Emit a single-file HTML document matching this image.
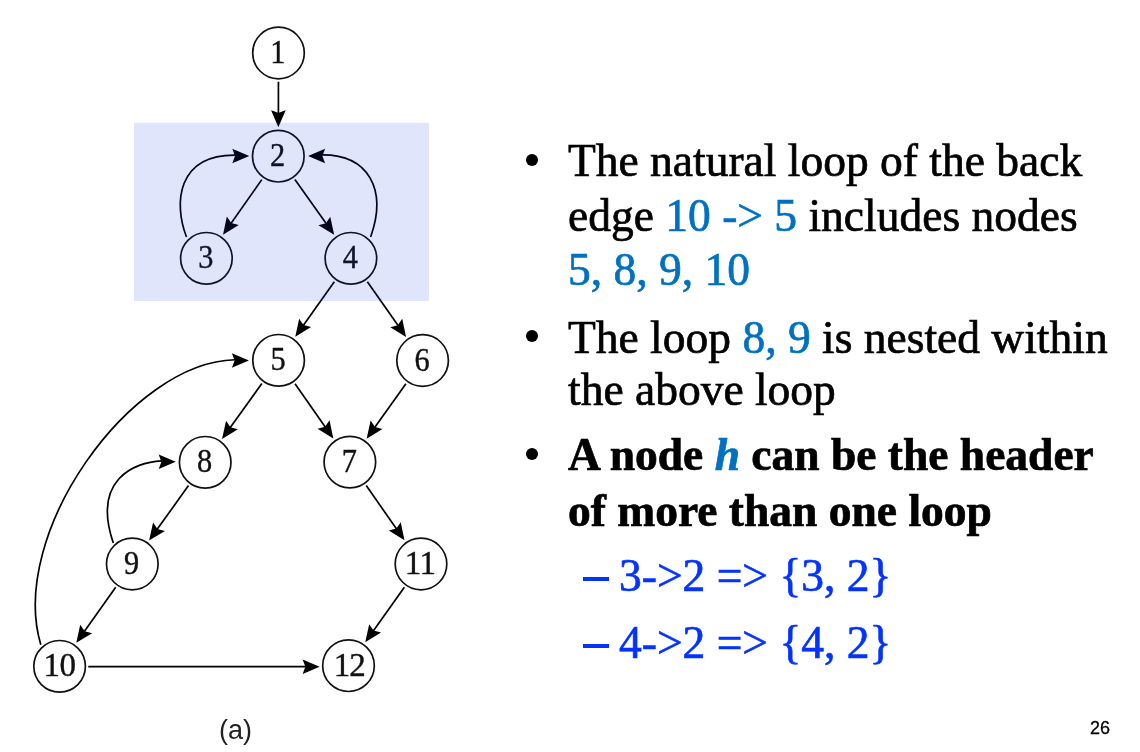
<!DOCTYPE html>
<html><head><meta charset="utf-8"><style>
html,body{margin:0;padding:0;background:#fff;width:1140px;height:752px;overflow:hidden;position:relative}
body{font-family:"Liberation Serif",serif;color:#000}
div,svg{will-change:transform}
</style></head><body>
<svg width="1140" height="752" style="position:absolute;left:0;top:0">
<line x1="278.44" y1="81.65" x2="278.38" y2="113.55" stroke="#000" stroke-width="1.7"/><path d="M278.36,127.35 L271.09,110.34 Q274.74,111.69 278.38,113.05 Q282.04,111.71 285.69,110.36 Z" fill="#000"/><line x1="261.80" y1="179.62" x2="230.96" y2="223.43" stroke="#000" stroke-width="1.7"/><path d="M223.01,234.71 L226.83,216.61 Q229.04,219.81 231.24,223.02 Q235.01,224.02 238.77,225.02 Z" fill="#000"/><line x1="294.90" y1="179.55" x2="326.18" y2="223.54" stroke="#000" stroke-width="1.7"/><path d="M334.18,234.79 L318.38,225.16 Q322.14,224.15 325.89,223.13 Q328.09,219.92 330.28,216.70 Z" fill="#000"/><line x1="334.33" y1="281.67" x2="303.26" y2="325.50" stroke="#000" stroke-width="1.7"/><path d="M295.28,336.76 L299.16,318.67 Q301.36,321.88 303.55,325.10 Q307.31,326.11 311.07,327.12 Z" fill="#000"/><line x1="367.35" y1="281.75" x2="398.11" y2="325.59" stroke="#000" stroke-width="1.7"/><path d="M406.03,336.88 L390.29,327.16 Q394.05,326.17 397.82,325.18 Q400.03,321.97 402.24,318.77 Z" fill="#000"/><line x1="261.87" y1="383.55" x2="230.11" y2="427.68" stroke="#000" stroke-width="1.7"/><path d="M222.05,438.88 L226.06,420.82 Q228.23,424.05 230.40,427.28 Q234.15,428.31 237.91,429.35 Z" fill="#000"/><line x1="295.03" y1="383.77" x2="325.39" y2="427.16" stroke="#000" stroke-width="1.7"/><path d="M333.31,438.46 L317.58,428.72 Q321.34,427.74 325.11,426.75 Q327.32,423.55 329.54,420.35 Z" fill="#000"/><line x1="405.92" y1="383.79" x2="374.68" y2="427.42" stroke="#000" stroke-width="1.7"/><path d="M366.65,438.64 L370.61,420.57 Q372.79,423.79 374.97,427.02 Q378.72,428.04 382.48,429.07 Z" fill="#000"/><line x1="188.51" y1="485.59" x2="157.15" y2="529.34" stroke="#000" stroke-width="1.7"/><path d="M149.11,540.55 L153.08,522.48 Q155.26,525.71 157.44,528.93 Q161.19,529.96 164.95,530.99 Z" fill="#000"/><line x1="115.70" y1="587.35" x2="84.31" y2="631.53" stroke="#000" stroke-width="1.7"/><path d="M76.31,642.78 L80.21,624.70 Q82.40,627.91 84.60,631.13 Q88.35,632.14 92.11,633.15 Z" fill="#000"/><line x1="366.25" y1="485.59" x2="396.58" y2="529.03" stroke="#000" stroke-width="1.7"/><path d="M404.48,540.35 L388.77,530.59 Q392.53,529.60 396.30,528.62 Q398.52,525.42 400.74,522.23 Z" fill="#000"/><line x1="404.37" y1="587.33" x2="373.26" y2="630.97" stroke="#000" stroke-width="1.7"/><path d="M365.25,642.21 L369.17,624.13 Q371.36,627.35 373.55,630.56 Q377.30,631.58 381.06,632.60 Z" fill="#000"/><line x1="88.25" y1="666.70" x2="305.85" y2="666.70" stroke="#000" stroke-width="1.7"/><path d="M319.65,666.70 L302.65,674.00 Q304.00,670.35 305.35,666.70 Q304.00,663.05 302.65,659.40 Z" fill="#000"/><path d="M186.50,237.00 C173.53,203.45 176.90,154.58 235.33,155.05" fill="none" stroke="#000" stroke-width="1.7"/><path d="M249.30,156.00 L232.30,163.30 Q233.65,159.65 235.00,156.00 Q233.65,152.35 232.30,148.70 Z" fill="#000"/><path d="M370.60,237.00 C387.65,189.23 368.18,154.59 322.06,154.92" fill="none" stroke="#000" stroke-width="1.7"/><path d="M308.10,156.00 L325.10,148.70 Q323.75,152.35 322.40,156.00 Q323.75,159.65 325.10,163.30 Z" fill="#000"/><path d="M113.30,543.00 C91.91,480.06 133.69,462.09 161.73,460.81" fill="none" stroke="#000" stroke-width="1.7"/><path d="M175.70,461.70 L158.70,469.00 Q160.05,465.35 161.40,461.70 Q160.05,458.05 158.70,454.40 Z" fill="#000"/><path d="M40.80,644.70 C7.74,534.20 130.32,362.00 234.92,359.75" fill="none" stroke="#000" stroke-width="1.7"/><path d="M248.90,360.50 L231.90,367.80 Q233.25,364.15 234.60,360.50 Q233.25,356.85 231.90,353.20 Z" fill="#000"/>
<circle cx="278.50" cy="53.00" r="25.8" fill="none" stroke="#111" stroke-width="1.7"/><text transform="translate(277.90,63.00) scale(0.92,1)" x="0.00" y="0" text-anchor="middle" font-family="Liberation Serif" font-size="33" letter-spacing="0" fill="#111" stroke="#111" stroke-width="0.4">1</text><circle cx="278.30" cy="156.20" r="25.8" fill="none" stroke="#111" stroke-width="1.7"/><text transform="translate(277.70,166.20) scale(0.92,1)" x="0.00" y="0" text-anchor="middle" font-family="Liberation Serif" font-size="33" letter-spacing="0" fill="#111" stroke="#111" stroke-width="0.4">2</text><circle cx="206.40" cy="258.30" r="25.8" fill="none" stroke="#111" stroke-width="1.7"/><text transform="translate(205.80,268.30) scale(0.92,1)" x="0.00" y="0" text-anchor="middle" font-family="Liberation Serif" font-size="33" letter-spacing="0" fill="#111" stroke="#111" stroke-width="0.4">3</text><circle cx="350.90" cy="258.30" r="25.8" fill="none" stroke="#111" stroke-width="1.7"/><text transform="translate(350.30,268.30) scale(0.92,1)" x="0.00" y="0" text-anchor="middle" font-family="Liberation Serif" font-size="33" letter-spacing="0" fill="#111" stroke="#111" stroke-width="0.4">4</text><circle cx="278.60" cy="360.30" r="25.8" fill="none" stroke="#111" stroke-width="1.7"/><text transform="translate(278.00,370.30) scale(0.92,1)" x="0.00" y="0" text-anchor="middle" font-family="Liberation Serif" font-size="33" letter-spacing="0" fill="#111" stroke="#111" stroke-width="0.4">5</text><circle cx="422.60" cy="360.50" r="25.8" fill="none" stroke="#111" stroke-width="1.7"/><text transform="translate(422.00,370.50) scale(0.92,1)" x="0.00" y="0" text-anchor="middle" font-family="Liberation Serif" font-size="33" letter-spacing="0" fill="#111" stroke="#111" stroke-width="0.4">6</text><circle cx="349.85" cy="462.10" r="25.8" fill="none" stroke="#111" stroke-width="1.7"/><text transform="translate(349.25,472.10) scale(0.92,1)" x="0.00" y="0" text-anchor="middle" font-family="Liberation Serif" font-size="33" letter-spacing="0" fill="#111" stroke="#111" stroke-width="0.4">7</text><circle cx="205.20" cy="462.30" r="25.8" fill="none" stroke="#111" stroke-width="1.7"/><text transform="translate(204.60,472.30) scale(0.92,1)" x="0.00" y="0" text-anchor="middle" font-family="Liberation Serif" font-size="33" letter-spacing="0" fill="#111" stroke="#111" stroke-width="0.4">8</text><circle cx="132.30" cy="564.00" r="25.8" fill="none" stroke="#111" stroke-width="1.7"/><text transform="translate(131.70,574.00) scale(0.92,1)" x="0.00" y="0" text-anchor="middle" font-family="Liberation Serif" font-size="33" letter-spacing="0" fill="#111" stroke="#111" stroke-width="0.4">9</text><circle cx="421.00" cy="564.00" r="25.8" fill="none" stroke="#111" stroke-width="1.7"/><text transform="translate(419.80,574.00) scale(1.0,1)" x="0.30" y="0" text-anchor="middle" font-family="Liberation Serif" font-size="33" letter-spacing="-0.6" fill="#111" stroke="#111" stroke-width="0.4">11</text><circle cx="59.60" cy="666.30" r="25.8" fill="none" stroke="#111" stroke-width="1.7"/><text transform="translate(59.10,676.30) scale(1.0,1)" x="0.30" y="0" text-anchor="middle" font-family="Liberation Serif" font-size="33" letter-spacing="-0.6" fill="#111" stroke="#111" stroke-width="0.4">10</text><circle cx="348.50" cy="665.70" r="25.8" fill="none" stroke="#111" stroke-width="1.7"/><text transform="translate(348.80,675.70) scale(1.0,1)" x="0.50" y="0" text-anchor="middle" font-family="Liberation Serif" font-size="33" letter-spacing="-1.0" fill="#111" stroke="#111" stroke-width="0.4">12</text>
<rect x="134" y="122.8" width="295" height="178.2" fill="rgb(0,40,232)" fill-opacity="0.12"/>
<text x="235.5" y="739" text-anchor="middle" font-family="Liberation Sans" font-size="27" fill="#222">(a)</text>
</svg>
<div style="position:absolute;left:568.3px;top:138.3px;font-size:45.5px;line-height:45.5px;font-weight:400;-webkit-text-stroke-width:0.7px;white-space:pre;height:45.5px">The natural loop of the back</div><div style="position:absolute;left:568.3px;top:192.6px;font-size:45.5px;line-height:45.5px;font-weight:400;-webkit-text-stroke-width:0.7px;white-space:pre;height:45.5px">edge <span style="color:#0070c0">10 -&gt; 5</span> includes nodes</div><div style="position:absolute;left:568.3px;top:247.1px;font-size:45.5px;line-height:45.5px;font-weight:400;-webkit-text-stroke-width:0.7px;white-space:pre;height:45.5px"><span style="color:#0070c0">5, 8, 9, 10</span></div><div style="position:absolute;left:568.3px;top:314.5px;font-size:45.5px;line-height:45.5px;font-weight:400;-webkit-text-stroke-width:0.7px;white-space:pre;height:45.5px">The loop <span style="color:#0070c0">8, 9</span> is nested within</div><div style="position:absolute;left:568.3px;top:367.3px;font-size:45.5px;line-height:45.5px;font-weight:400;-webkit-text-stroke-width:0.7px;white-space:pre;height:45.5px">the above loop</div><div style="position:absolute;left:568.3px;top:431.9px;font-size:45.5px;line-height:45.5px;font-weight:700;-webkit-text-stroke-width:0.7px;white-space:pre;height:45.5px">A node <i style="color:#0070c0">h</i> can be the header</div><div style="position:absolute;left:568.3px;top:487.8px;font-size:45.5px;line-height:45.5px;font-weight:700;-webkit-text-stroke-width:0.7px;white-space:pre;height:45.5px">of more than one loop</div><div style="position:absolute;left:526.2px;top:153.7px;width:12px;height:12px;border-radius:50%;background:#000"></div><div style="position:absolute;left:526.2px;top:329.7px;width:12px;height:12px;border-radius:50%;background:#000"></div><div style="position:absolute;left:526.2px;top:447.8px;width:12px;height:12px;border-radius:50%;background:#000"></div><div style="position:absolute;left:618.5px;top:552.8px;font-size:45.5px;line-height:45.5px;white-space:pre;color:#0433ff;-webkit-text-stroke-width:0.7px">3-&gt;2 =&gt; {3, 2}</div><div style="position:absolute;left:618.5px;top:619.6px;font-size:45.5px;line-height:45.5px;white-space:pre;color:#0433ff;-webkit-text-stroke-width:0.7px">4-&gt;2 =&gt; {4, 2}</div><div style="position:absolute;left:582.7px;top:577px;width:25.8px;height:4px;background:#0433ff"></div><div style="position:absolute;left:582.7px;top:644px;width:25.8px;height:4px;background:#0433ff"></div><div style="position:absolute;left:1090px;top:719px;font-family:'Liberation Sans',sans-serif;font-size:18px;line-height:18px;color:#000;-webkit-text-stroke-width:0.3px">26</div>
</body></html>
